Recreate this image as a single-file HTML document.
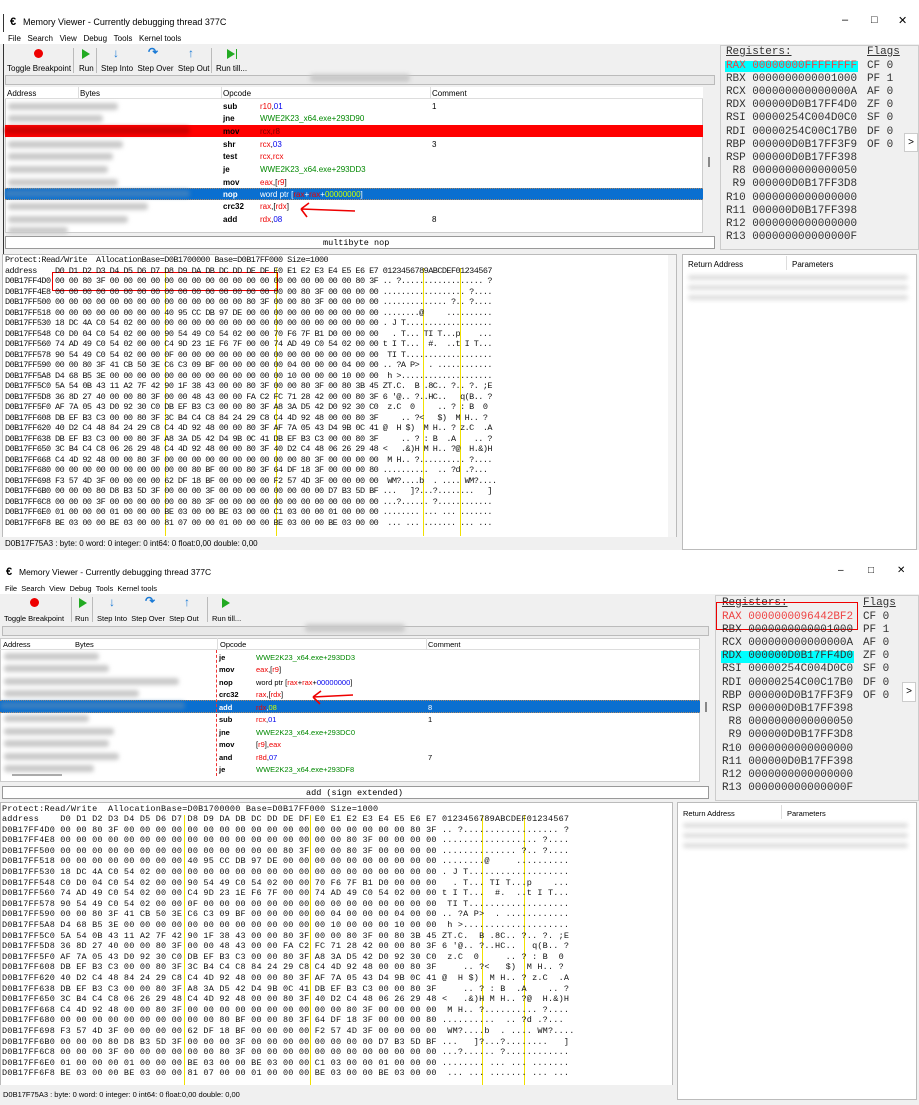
<!DOCTYPE html>
<html><head><meta charset="utf-8"><style>
*{margin:0;padding:0;box-sizing:border-box}
body{width:919px;height:1105px;background:#fff;position:relative;overflow:hidden;font-family:"Liberation Sans",sans-serif;font-size:8px;color:#000}
.a{position:absolute;white-space:nowrap}
.win{position:absolute;left:0;width:919px;height:550px;background:#f0f0f0}
.title{font-size:9px}
.mono{font-family:"Liberation Mono",monospace}
.hex{font-family:"Liberation Mono",monospace;font-size:8.5px;letter-spacing:-0.55px;line-height:10.5px;white-space:pre;color:#111}
.hex2{letter-spacing:0.2px;line-height:10.6px}
.reg{font-family:"Liberation Mono",monospace;font-size:11px;letter-spacing:-0.05px;line-height:13.2px;white-space:pre;color:#333}
.b{font-weight:bold}
.r{color:#e00}.n{color:#00e}.g{color:#080}
.smudge{position:absolute;height:7px;background:#c9c9c9;filter:blur(2px);border-radius:3px}
.yl{position:absolute;width:1px;background:#f0e000}
</style></head><body>

<!-- ================= WINDOW 1 ================= -->
<div class="win" style="top:0"></div>
<div class="a" style="left:0;top:0;width:919px;height:32px;background:#fff"></div>
<div class="a" style="left:3px;top:14px;width:1px;height:240px;background:#333"></div>
<div class="a title" style="left:10px;top:16px;font-weight:bold;font-size:11px">€</div>
<div class="a title" style="left:23px;top:17px">Memory Viewer - Currently debugging thread 377C</div>
<div class="a" style="left:842px;top:14px;font-size:11px">–</div>
<div class="a" style="left:871px;top:14px;font-size:11px">□</div>
<div class="a" style="left:898px;top:14px;font-size:11px">✕</div>
<div class="a" style="left:0;top:32px;width:919px;height:12px;background:#fff"></div>
<div class="a" style="left:8px;top:34px">File&nbsp;&nbsp;&nbsp;Search&nbsp;&nbsp;&nbsp;View&nbsp;&nbsp;&nbsp;Debug&nbsp;&nbsp;&nbsp;Tools&nbsp;&nbsp;&nbsp;Kernel tools</div>
<div class="a" style="left:34px;top:49px;width:9px;height:9px;border-radius:50%;background:#e00"></div>
<div class="a" style="left:82px;top:49px;width:0;height:0;border-left:8px solid #2a2;border-top:5px solid transparent;border-bottom:5px solid transparent"></div>
<div class="a" style="left:113px;top:46px;color:#1a7ad6;font-size:12px;font-weight:bold">↓</div>
<div class="a" style="left:148px;top:45px;color:#1a7ad6;font-size:12px;font-weight:bold">↷</div>
<div class="a" style="left:188px;top:46px;color:#1a7ad6;font-size:12px;font-weight:bold">↑</div>
<div class="a" style="left:227px;top:49px;width:0;height:0;border-left:8px solid #2a2;border-top:5px solid transparent;border-bottom:5px solid transparent"></div>
<div class="a" style="left:236px;top:49px;width:1px;height:10px;background:#2a2"></div>
<div class="a" style="left:7px;top:64px">Toggle Breakpoint</div>
<div class="a" style="left:73px;top:48px;width:1px;height:25px;background:#bbb"></div>
<div class="a" style="left:79px;top:64px">Run</div>
<div class="a" style="left:96px;top:48px;width:1px;height:25px;background:#bbb"></div>
<div class="a" style="left:101px;top:64px">Step Into&nbsp;&nbsp;Step Over&nbsp;&nbsp;Step Out</div>
<div class="a" style="left:211px;top:48px;width:1px;height:25px;background:#bbb"></div>
<div class="a" style="left:216px;top:64px">Run till...</div>
<div class="a" style="left:5px;top:75px;width:710px;height:10px;background:#e8e8e8;border:1px solid #bbb"></div>
<div class="smudge" style="left:310px;top:74px;width:100px;height:8px"></div>
<div class="a" style="left:5px;top:87px;width:698px;height:146px;background:#fff;border:1px solid #ccc"></div>
<div class="a" style="left:5px;top:87px;width:698px;height:12px;background:#fff;border-bottom:1px solid #ddd"></div>
<div class="a" style="left:7px;top:89px">Address</div>
<div class="a" style="left:78px;top:87px;width:1px;height:12px;background:#ddd"></div>
<div class="a" style="left:80px;top:89px">Bytes</div>
<div class="a" style="left:221px;top:87px;width:1px;height:12px;background:#ddd"></div>
<div class="a" style="left:223px;top:89px">Opcode</div>
<div class="a" style="left:430px;top:87px;width:1px;height:12px;background:#ddd"></div>
<div class="a" style="left:432px;top:89px">Comment</div>
<div class="a" style="left:705px;top:87px;width:10px;height:146px;background:#f0f0f0"></div>
<div class="a" style="left:708px;top:157px;width:2px;height:10px;background:#888"></div>
<div class="a" style="left:5px;top:125px;width:698px;height:12px;background:#f00"></div>
<div class="a" style="left:5px;top:188px;width:698px;height:12px;background:#0a6fd0;border-top:1px dotted #a86;border-bottom:1px dotted #a86"></div>
<div class="smudge" style="left:8px;top:103px;width:110px"></div>
<div class="smudge" style="left:8px;top:115px;width:95px"></div>
<div class="smudge" style="left:5px;top:127px;width:185px;background:#c00"></div>
<div class="smudge" style="left:8px;top:141px;width:115px"></div>
<div class="smudge" style="left:8px;top:153px;width:105px"></div>
<div class="smudge" style="left:8px;top:166px;width:100px"></div>
<div class="smudge" style="left:8px;top:179px;width:110px"></div>
<div class="smudge" style="left:5px;top:190px;width:185px;background:#3a7fc0"></div>
<div class="smudge" style="left:8px;top:203px;width:140px"></div>
<div class="smudge" style="left:8px;top:216px;width:120px"></div>
<div class="smudge" style="left:8px;top:227px;width:60px"></div>
<div class="a b" style="left:223px;top:102px">sub</div><div class="a" style="left:260px;top:102px"><span class="r">r10</span>,<span class="n">01</span></div><div class="a" style="left:432px;top:102px">1</div>
<div class="a b" style="left:223px;top:114px">jne</div><div class="a g" style="left:260px;top:114px">WWE2K23_x64.exe+293D90</div>
<div class="a b" style="left:223px;top:127px">mov</div><div class="a" style="left:260px;top:127px;color:#700">rcx,r8</div>
<div class="a b" style="left:223px;top:140px">shr</div><div class="a" style="left:260px;top:140px"><span class="r">rcx</span>,<span class="n">03</span></div><div class="a" style="left:432px;top:140px">3</div>
<div class="a b" style="left:223px;top:152px">test</div><div class="a r" style="left:260px;top:152px">rcx,rcx</div>
<div class="a b" style="left:223px;top:165px">je</div><div class="a g" style="left:260px;top:165px">WWE2K23_x64.exe+293DD3</div>
<div class="a b" style="left:223px;top:178px">mov</div><div class="a" style="left:260px;top:178px"><span class="r">eax</span>,[<span class="r">r9</span>]</div>
<div class="a b" style="left:223px;top:190px;color:#fff">nop</div><div class="a" style="left:260px;top:190px;color:#fff">word ptr [<span class="r">rax</span>+<span class="r">rax</span>+<span style="color:#cf0">00000000</span>]</div>
<div class="a b" style="left:223px;top:202px">crc32</div><div class="a" style="left:260px;top:202px"><span class="r">rax</span>,[<span class="r">rdx</span>]</div>
<div class="a b" style="left:223px;top:215px">add</div><div class="a" style="left:260px;top:215px"><span class="r">rdx</span>,<span class="n">08</span></div><div class="a" style="left:432px;top:215px">8</div>
<svg class="a" style="left:295px;top:200px" width="65" height="20"><path d="M60 11 L6 9 M6 9 L14 3 M6 9 L12 17" stroke="#e00" stroke-width="1.6" fill="none"/></svg>
<div class="a" style="left:5px;top:236px;width:710px;height:13px;background:#fff;border:1px solid #999"></div>
<div class="a mono" style="left:323px;top:238px;font-size:8.5px">multibyte nop</div>
<div class="a" style="left:720px;top:45px;width:199px;height:205px;background:#f0f0f0;border:1px solid #ccc"></div>
<div class="a reg" style="left:726px;top:46px;text-decoration:underline">Registers:</div>
<div class="a reg" style="left:867px;top:46px;text-decoration:underline">Flags</div>
<div class="a" style="left:725px;top:61px;width:133px;height:11px;background:#0ff"></div>
<div class="a reg" style="left:726px;top:59.5px"><span style="color:#e44">RAX 00000000FFFFFFFF</span>
RBX 0000000000001000
RCX 000000000000000A
RDX 000000D0B17FF4D0
RSI 00000254C004D0C0
RDI 00000254C00C17B0
RBP 000000D0B17FF3F9
RSP 000000D0B17FF398
 R8 0000000000000050
 R9 000000D0B17FF3D8
R10 0000000000000000
R11 000000D0B17FF398
R12 0000000000000000
R13 000000000000000F</div>
<div class="a reg" style="left:867px;top:59.5px">CF 0
PF 1
AF 0
ZF 0
SF 0
DF 0
OF 0</div>
<div class="a" style="left:904px;top:133px;width:14px;height:19px;background:#fff;border:1px solid #ccc;font-size:10px;text-align:center;line-height:17px">&gt;</div>
<div class="a" style="left:2px;top:254px;width:675px;height:284px;background:#fff;border:1px solid #bbb"></div>
<div class="a" style="left:668px;top:255px;width:8px;height:282px;background:#f4f4f4"></div>
<div class="yl" style="left:165px;top:268px;height:268px"></div>
<div class="yl" style="left:276px;top:268px;height:268px"></div>
<div class="yl" style="left:423px;top:268px;height:268px"></div>
<div class="yl" style="left:460px;top:268px;height:268px"></div>
<div class="a" style="left:52px;top:272px;width:226px;height:19px;border:1.5px solid #e00"></div>
<div class="a hex" style="left:5px;top:255px">Protect:Read/Write  AllocationBase=D0B1700000 Base=D0B17FF000 Size=1000
address    D0 D1 D2 D3 D4 D5 D6 D7 D8 D9 DA DB DC DD DE DF E0 E1 E2 E3 E4 E5 E6 E7 0123456789ABCDEF01234567
D0B17FF4D0 00 00 80 3F 00 00 00 00 00 00 00 00 00 00 00 00 00 00 00 00 00 00 80 3F .. ?.................. ?
D0B17FF4E8 00 00 00 00 00 00 00 00 00 00 00 00 00 00 00 00 00 00 80 3F 00 00 00 00 .................. ?....
D0B17FF500 00 00 00 00 00 00 00 00 00 00 00 00 00 00 80 3F 00 00 80 3F 00 00 00 00 .............. ?.. ?....
D0B17FF518 00 00 00 00 00 00 00 00 40 95 CC DB 97 DE 00 00 00 00 00 00 00 00 00 00 ........@     ..........
D0B17FF530 18 DC 4A C0 54 02 00 00 00 00 00 00 00 00 00 00 00 00 00 00 00 00 00 00 . J T...................
D0B17FF548 C0 D0 04 C0 54 02 00 00 90 54 49 C0 54 02 00 00 70 F6 7F B1 D0 00 00 00   . T... TI T...p    ...
D0B17FF560 74 AD 49 C0 54 02 00 00 C4 9D 23 1E F6 7F 00 00 74 AD 49 C0 54 02 00 00 t I T...  #.  ..t I T...
D0B17FF578 90 54 49 C0 54 02 00 00 0F 00 00 00 00 00 00 00 00 00 00 00 00 00 00 00  TI T...................
D0B17FF590 00 00 80 3F 41 CB 50 3E C6 C3 09 BF 00 00 00 00 00 04 00 00 00 04 00 00 .. ?A P>  . ............
D0B17FF5A8 D4 68 B5 3E 00 00 00 00 00 00 00 00 00 00 00 00 00 10 00 00 00 10 00 00  h >....................
D0B17FF5C0 5A 54 0B 43 11 A2 7F 42 90 1F 38 43 00 00 80 3F 00 00 80 3F 00 80 3B 45 ZT.C.  B .8C.. ?.. ?. ;E
D0B17FF5D8 36 8D 27 40 00 00 80 3F 00 00 48 43 00 00 FA C2 FC 71 28 42 00 00 80 3F 6 '@.. ?..HC..   q(B.. ?
D0B17FF5F0 AF 7A 05 43 D0 92 30 C0 DB EF B3 C3 00 00 80 3F A8 3A D5 42 D0 92 30 C0  z.C  0     .. ? : B  0
D0B17FF608 DB EF B3 C3 00 00 80 3F 3C B4 C4 C8 84 24 29 C8 C4 4D 92 48 00 00 80 3F     .. ?<   $)  M H.. ?
D0B17FF620 40 D2 C4 48 84 24 29 C8 C4 4D 92 48 00 00 80 3F AF 7A 05 43 D4 9B 0C 41 @  H $)  M H.. ? z.C  .A
D0B17FF638 DB EF B3 C3 00 00 80 3F A8 3A D5 42 D4 9B 0C 41 DB EF B3 C3 00 00 80 3F     .. ? : B  .A    .. ?
D0B17FF650 3C B4 C4 C8 06 26 29 48 C4 4D 92 48 00 00 80 3F 40 D2 C4 48 06 26 29 48 <   .&)H M H.. ?@  H.&)H
D0B17FF668 C4 4D 92 48 00 00 80 3F 00 00 00 00 00 00 00 00 00 00 80 3F 00 00 00 00  M H.. ?.......... ?....
D0B17FF680 00 00 00 00 00 00 00 00 00 00 80 BF 00 00 80 3F 64 DF 18 3F 00 00 00 80 ..........  .. ?d .?...
D0B17FF698 F3 57 4D 3F 00 00 00 00 62 DF 18 BF 00 00 00 00 F2 57 4D 3F 00 00 00 00  WM?....b  . .... WM?....
D0B17FF6B0 00 00 00 80 D8 B3 5D 3F 00 00 00 3F 00 00 00 00 00 00 00 00 D7 B3 5D BF ...   ]?...?........   ]
D0B17FF6C8 00 00 00 3F 00 00 00 00 00 00 80 3F 00 00 00 00 00 00 00 00 00 00 00 00 ...?...... ?............
D0B17FF6E0 01 00 00 00 01 00 00 00 BE 03 00 00 BE 03 00 00 C1 03 00 00 01 00 00 00 ........ ... ... .......
D0B17FF6F8 BE 03 00 00 BE 03 00 00 81 07 00 00 01 00 00 00 BE 03 00 00 BE 03 00 00  ... ... ....... ... ...</div>
<div class="a" style="left:2px;top:537px;width:675px;height:13px;background:#f0f0f0"></div>
<div class="a" style="left:5px;top:539px">D0B17F75A3 : byte: 0 word: 0 integer: 0 int64: 0 float:0,00 double: 0,00</div>
<div class="a" style="left:682px;top:254px;width:235px;height:296px;background:#fff;border:1px solid #bbb"></div>
<div class="a" style="left:688px;top:260px">Return Address</div>
<div class="a" style="left:786px;top:256px;width:1px;height:14px;background:#ddd"></div>
<div class="a" style="left:792px;top:260px">Parameters</div>
<div class="smudge" style="left:688px;top:275px;width:220px;height:5px;background:#ddd"></div>
<div class="smudge" style="left:688px;top:285px;width:220px;height:5px;background:#ddd"></div>
<div class="smudge" style="left:688px;top:295px;width:220px;height:5px;background:#ddd"></div>

<!-- ================= WINDOW 2 ================= -->
<div class="win" style="top:560px;height:545px"></div>
<div class="a" style="left:0;top:560px;width:919px;height:22px;background:#fff"></div>
<div class="a title" style="left:6px;top:566px;font-weight:bold;font-size:11px">€</div>
<div class="a title" style="left:19px;top:567px;font-size:8.5px">Memory Viewer - Currently debugging thread 377C</div>
<div class="a" style="left:838px;top:565px;font-size:10px">–</div>
<div class="a" style="left:868px;top:565px;font-size:10px">□</div>
<div class="a" style="left:897px;top:565px;font-size:10px">✕</div>
<div class="a" style="left:0;top:582px;width:919px;height:12px;background:#fff"></div>
<div class="a" style="left:5px;top:584px;font-size:7.5px">File&nbsp;&nbsp;Search&nbsp;&nbsp;View&nbsp;&nbsp;Debug&nbsp;&nbsp;Tools&nbsp;&nbsp;Kernel tools</div>
<div class="a" style="left:30px;top:598px;width:9px;height:9px;border-radius:50%;background:#e00"></div>
<div class="a" style="left:79px;top:598px;width:0;height:0;border-left:8px solid #2a2;border-top:5px solid transparent;border-bottom:5px solid transparent"></div>
<div class="a" style="left:109px;top:595px;color:#1a7ad6;font-size:12px;font-weight:bold">↓</div>
<div class="a" style="left:145px;top:594px;color:#1a7ad6;font-size:12px;font-weight:bold">↷</div>
<div class="a" style="left:184px;top:595px;color:#1a7ad6;font-size:12px;font-weight:bold">↑</div>
<div class="a" style="left:222px;top:598px;width:0;height:0;border-left:8px solid #2a2;border-top:5px solid transparent;border-bottom:5px solid transparent"></div>
<div class="a" style="left:4px;top:614px;font-size:7.5px">Toggle Breakpoint</div>
<div class="a" style="left:71px;top:597px;width:1px;height:25px;background:#bbb"></div>
<div class="a" style="left:75px;top:614px;font-size:7.5px">Run</div>
<div class="a" style="left:92px;top:597px;width:1px;height:25px;background:#bbb"></div>
<div class="a" style="left:97px;top:614px;font-size:7.5px">Step Into&nbsp;&nbsp;Step Over&nbsp;&nbsp;Step Out</div>
<div class="a" style="left:207px;top:597px;width:1px;height:25px;background:#bbb"></div>
<div class="a" style="left:212px;top:614px;font-size:7.5px">Run till...</div>
<div class="a" style="left:2px;top:626px;width:707px;height:10px;background:#e8e8e8;border:1px solid #bbb"></div>
<div class="smudge" style="left:305px;top:624px;width:100px;height:8px"></div>
<div class="a" style="left:0;top:638px;width:700px;height:144px;background:#fff;border:1px solid #ccc"></div>
<div class="a" style="left:0;top:638px;width:700px;height:12px;border-bottom:1px solid #ddd"></div>
<div class="a" style="left:3px;top:640px;font-size:7.5px">Address</div>
<div class="a" style="left:75px;top:640px;font-size:7.5px">Bytes</div>
<div class="a" style="left:217px;top:638px;width:1px;height:12px;background:#ddd"></div>
<div class="a" style="left:220px;top:640px;font-size:7.5px">Opcode</div>
<div class="a" style="left:426px;top:638px;width:1px;height:12px;background:#ddd"></div>
<div class="a" style="left:428px;top:640px;font-size:7.5px">Comment</div>
<div class="a" style="left:702px;top:638px;width:10px;height:144px;background:#f0f0f0"></div>
<div class="a" style="left:705px;top:702px;width:2px;height:10px;background:#888"></div>
<div class="a" style="left:0;top:700px;width:700px;height:13px;background:#0a6fd0;border-top:1px dotted #a86;border-bottom:1px dotted #a86"></div>
<div class="smudge" style="left:4px;top:653px;width:95px"></div>
<div class="smudge" style="left:4px;top:665px;width:105px"></div>
<div class="smudge" style="left:4px;top:678px;width:175px"></div>
<div class="smudge" style="left:4px;top:690px;width:135px"></div>
<div class="smudge" style="left:0;top:702px;width:185px;background:#3a7fc0"></div>
<div class="smudge" style="left:4px;top:715px;width:85px"></div>
<div class="smudge" style="left:4px;top:728px;width:110px"></div>
<div class="smudge" style="left:4px;top:740px;width:105px"></div>
<div class="smudge" style="left:4px;top:753px;width:115px"></div>
<div class="smudge" style="left:4px;top:765px;width:90px"></div>
<div class="a" style="left:12px;top:774px;width:50px;height:2px;background:#aaa"></div>
<div class="a" style="left:216px;top:650px;width:0;height:126px;border-left:1px dashed #e33"></div>
<div class="a b" style="left:219px;top:653px;font-size:7.5px">je</div><div class="a g" style="left:256px;top:653px;font-size:7.5px">WWE2K23_x64.exe+293DD3</div>
<div class="a b" style="left:219px;top:665px;font-size:7.5px">mov</div><div class="a" style="left:256px;top:665px;font-size:7.5px"><span class="r">eax</span>,[<span class="r">r9</span>]</div>
<div class="a b" style="left:219px;top:678px;font-size:7.5px">nop</div><div class="a" style="left:256px;top:678px;font-size:7.5px">word ptr [<span class="r">rax</span>+<span class="r">rax</span>+<span class="n">00000000</span>]</div>
<div class="a b" style="left:219px;top:690px;font-size:7.5px">crc32</div><div class="a" style="left:256px;top:690px;font-size:7.5px"><span class="r">rax</span>,[<span class="r">rdx</span>]</div>
<div class="a b" style="left:219px;top:703px;font-size:7.5px;color:#fff">add</div><div class="a" style="left:256px;top:703px;font-size:7.5px;color:#fff"><span class="r">rdx</span>,<span style="color:#cf0">08</span></div><div class="a" style="left:428px;top:703px;font-size:7.5px;color:#fff">8</div>
<div class="a b" style="left:219px;top:715px;font-size:7.5px">sub</div><div class="a" style="left:256px;top:715px;font-size:7.5px"><span class="r">rcx</span>,<span class="n">01</span></div><div class="a" style="left:428px;top:715px;font-size:7.5px">1</div>
<div class="a b" style="left:219px;top:728px;font-size:7.5px">jne</div><div class="a g" style="left:256px;top:728px;font-size:7.5px">WWE2K23_x64.exe+293DC0</div>
<div class="a b" style="left:219px;top:740px;font-size:7.5px">mov</div><div class="a" style="left:256px;top:740px;font-size:7.5px">[<span class="r">r9</span>],<span class="r">eax</span></div>
<div class="a b" style="left:219px;top:753px;font-size:7.5px">and</div><div class="a" style="left:256px;top:753px;font-size:7.5px"><span class="r">r8d</span>,<span class="n">07</span></div><div class="a" style="left:428px;top:753px;font-size:7.5px">7</div>
<div class="a b" style="left:219px;top:765px;font-size:7.5px">je</div><div class="a g" style="left:256px;top:765px;font-size:7.5px">WWE2K23_x64.exe+293DF8</div>
<svg class="a" style="left:308px;top:688px" width="50" height="18"><path d="M45 7 L5 9 M5 9 L13 3 M5 9 L12 16" stroke="#e00" stroke-width="1.6" fill="none"/></svg>
<div class="a" style="left:2px;top:786px;width:707px;height:13px;background:#fff;border:1px solid #999"></div>
<div class="a mono" style="left:306px;top:788px;font-size:8.5px">add (sign extended)</div>
<div class="a" style="left:715px;top:595px;width:204px;height:206px;background:#f0f0f0;border:1px solid #ccc"></div>
<div class="a reg" style="left:722px;top:596.5px;text-decoration:underline">Registers:</div>
<div class="a reg" style="left:863px;top:596.5px;text-decoration:underline">Flags</div>
<div class="a" style="left:721px;top:651px;width:133px;height:12px;background:#0ff"></div>
<div class="a" style="left:716px;top:602px;width:142px;height:28px;border:1.5px solid #e00"></div>
<div class="a reg" style="left:722px;top:610.5px"><span style="color:#e44">RAX 0000000096442BF2</span>
RBX 0000000000001000
RCX 000000000000000A
RDX 000000D0B17FF4D0
RSI 00000254C004D0C0
RDI 00000254C00C17B0
RBP 000000D0B17FF3F9
RSP 000000D0B17FF398
 R8 0000000000000050
 R9 000000D0B17FF3D8
R10 0000000000000000
R11 000000D0B17FF398
R12 0000000000000000
R13 000000000000000F</div>
<div class="a reg" style="left:863px;top:610.5px">CF 0
PF 1
AF 0
ZF 0
SF 0
DF 0
OF 0</div>
<div class="a" style="left:902px;top:682px;width:14px;height:20px;background:#fff;border:1px solid #ccc;font-size:10px;text-align:center;line-height:18px">&gt;</div>
<div class="a" style="left:0;top:802px;width:673px;height:286px;background:#fff;border:1px solid #bbb"></div>
<div class="yl" style="left:184px;top:815px;height:273px"></div>
<div class="yl" style="left:310px;top:815px;height:273px"></div>
<div class="yl" style="left:482px;top:815px;height:273px"></div>
<div class="yl" style="left:524px;top:815px;height:273px"></div>
<div class="a hex hex2" style="left:2px;top:803.5px">Protect:Read/Write  AllocationBase=D0B1700000 Base=D0B17FF000 Size=1000
address    D0 D1 D2 D3 D4 D5 D6 D7 D8 D9 DA DB DC DD DE DF E0 E1 E2 E3 E4 E5 E6 E7 0123456789ABCDEF01234567
D0B17FF4D0 00 00 80 3F 00 00 00 00 00 00 00 00 00 00 00 00 00 00 00 00 00 00 80 3F .. ?.................. ?
D0B17FF4E8 00 00 00 00 00 00 00 00 00 00 00 00 00 00 00 00 00 00 80 3F 00 00 00 00 .................. ?....
D0B17FF500 00 00 00 00 00 00 00 00 00 00 00 00 00 00 80 3F 00 00 80 3F 00 00 00 00 .............. ?.. ?....
D0B17FF518 00 00 00 00 00 00 00 00 40 95 CC DB 97 DE 00 00 00 00 00 00 00 00 00 00 ........@     ..........
D0B17FF530 18 DC 4A C0 54 02 00 00 00 00 00 00 00 00 00 00 00 00 00 00 00 00 00 00 . J T...................
D0B17FF548 C0 D0 04 C0 54 02 00 00 90 54 49 C0 54 02 00 00 70 F6 7F B1 D0 00 00 00   . T... TI T...p    ...
D0B17FF560 74 AD 49 C0 54 02 00 00 C4 9D 23 1E F6 7F 00 00 74 AD 49 C0 54 02 00 00 t I T...  #.  ..t I T...
D0B17FF578 90 54 49 C0 54 02 00 00 0F 00 00 00 00 00 00 00 00 00 00 00 00 00 00 00  TI T...................
D0B17FF590 00 00 80 3F 41 CB 50 3E C6 C3 09 BF 00 00 00 00 00 04 00 00 00 04 00 00 .. ?A P>  . ............
D0B17FF5A8 D4 68 B5 3E 00 00 00 00 00 00 00 00 00 00 00 00 00 10 00 00 00 10 00 00  h >....................
D0B17FF5C0 5A 54 0B 43 11 A2 7F 42 90 1F 38 43 00 00 80 3F 00 00 80 3F 00 80 3B 45 ZT.C.  B .8C.. ?.. ?. ;E
D0B17FF5D8 36 8D 27 40 00 00 80 3F 00 00 48 43 00 00 FA C2 FC 71 28 42 00 00 80 3F 6 '@.. ?..HC..   q(B.. ?
D0B17FF5F0 AF 7A 05 43 D0 92 30 C0 DB EF B3 C3 00 00 80 3F A8 3A D5 42 D0 92 30 C0  z.C  0     .. ? : B  0
D0B17FF608 DB EF B3 C3 00 00 80 3F 3C B4 C4 C8 84 24 29 C8 C4 4D 92 48 00 00 80 3F     .. ?<   $)  M H.. ?
D0B17FF620 40 D2 C4 48 84 24 29 C8 C4 4D 92 48 00 00 80 3F AF 7A 05 43 D4 9B 0C 41 @  H $)  M H.. ? z.C  .A
D0B17FF638 DB EF B3 C3 00 00 80 3F A8 3A D5 42 D4 9B 0C 41 DB EF B3 C3 00 00 80 3F     .. ? : B  .A    .. ?
D0B17FF650 3C B4 C4 C8 06 26 29 48 C4 4D 92 48 00 00 80 3F 40 D2 C4 48 06 26 29 48 <   .&)H M H.. ?@  H.&)H
D0B17FF668 C4 4D 92 48 00 00 80 3F 00 00 00 00 00 00 00 00 00 00 80 3F 00 00 00 00  M H.. ?.......... ?....
D0B17FF680 00 00 00 00 00 00 00 00 00 00 80 BF 00 00 80 3F 64 DF 18 3F 00 00 00 80 ..........  .. ?d .?...
D0B17FF698 F3 57 4D 3F 00 00 00 00 62 DF 18 BF 00 00 00 00 F2 57 4D 3F 00 00 00 00  WM?....b  . .... WM?....
D0B17FF6B0 00 00 00 80 D8 B3 5D 3F 00 00 00 3F 00 00 00 00 00 00 00 00 D7 B3 5D BF ...   ]?...?........   ]
D0B17FF6C8 00 00 00 3F 00 00 00 00 00 00 80 3F 00 00 00 00 00 00 00 00 00 00 00 00 ...?...... ?............
D0B17FF6E0 01 00 00 00 01 00 00 00 BE 03 00 00 BE 03 00 00 C1 03 00 00 01 00 00 00 ........ ... ... .......
D0B17FF6F8 BE 03 00 00 BE 03 00 00 81 07 00 00 01 00 00 00 BE 03 00 00 BE 03 00 00  ... ... ....... ... ...</div>
<div class="a" style="left:0;top:1085px;width:673px;height:20px;background:#f0f0f0"></div>
<div class="a" style="left:3px;top:1090px;font-size:7.5px">D0B17F75A3 : byte: 0 word: 0 integer: 0 int64: 0 float:0,00 double: 0,00</div>
<div class="a" style="left:677px;top:802px;width:240px;height:298px;background:#fff;border:1px solid #bbb"></div>
<div class="a" style="left:683px;top:809px;font-size:7.5px">Return Address</div>
<div class="a" style="left:781px;top:805px;width:1px;height:14px;background:#ddd"></div>
<div class="a" style="left:787px;top:809px;font-size:7.5px">Parameters</div>
<div class="smudge" style="left:683px;top:823px;width:225px;height:5px;background:#ddd"></div>
<div class="smudge" style="left:683px;top:833px;width:225px;height:5px;background:#ddd"></div>
<div class="smudge" style="left:683px;top:843px;width:225px;height:5px;background:#ddd"></div>
</body></html>
